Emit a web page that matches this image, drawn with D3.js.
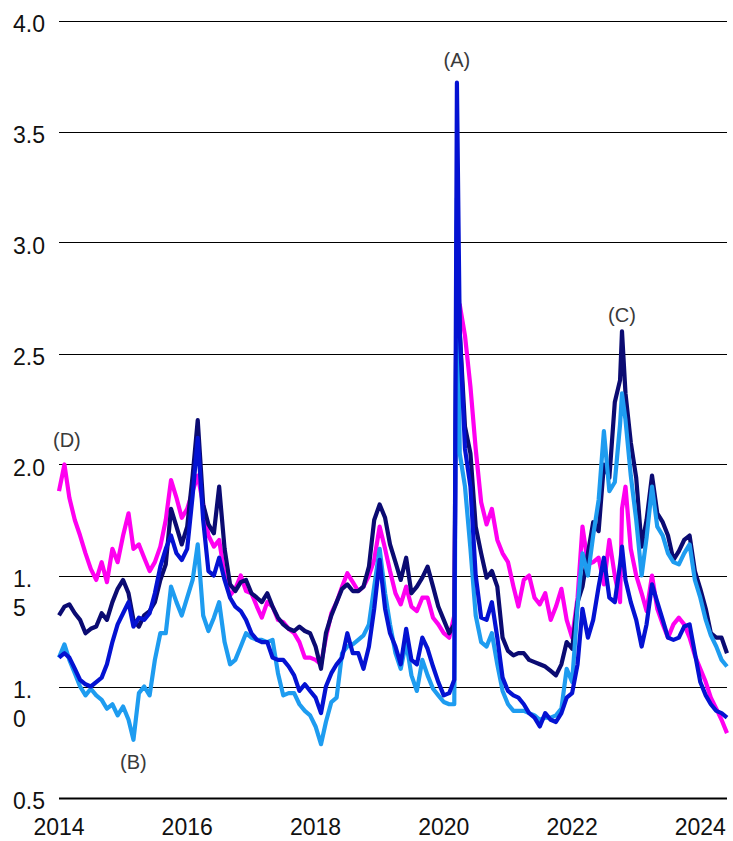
<!DOCTYPE html>
<html>
<head>
<meta charset="utf-8">
<script src="https://cdn.jsdelivr.net/npm/d3@7"></script>
<style>
  body { margin: 0; background: #fff; }
  svg { display: block; font-family: "Liberation Sans", Arial, sans-serif; }
</style>
</head>
<body>
<div id="chart"></div>
<script>
// monthly points Jan 2014 - Jun 2024, plus two extra days at the spikes
const extraDates = ["2020-03-16", "2022-10-12"];

const yTicks = [0.5, 1.0, 1.5, 2.0, 2.5, 3.0, 3.5, 4.0];
const yTickLabels = ["0.5", "1.\n0", "1.\n5", "2.0", "2.5", "3.0", "3.5", "4.0"];
const xTickYears = [2014, 2016, 2018, 2020, 2022, 2024];

const seriesNames = ["magenta", "navy", "lightblue", "blue"];
const seriesColors = ["#ff00f0", "#0b0b72", "#1e9cf0", "#0412d2"];

// values by year; 2020 and 2022 carry one extra (mid-month) point
const magenta = [
  1.88, 2.00, 1.85, 1.75, 1.68, 1.60, 1.53, 1.48, 1.56, 1.47, 1.62, 1.56,
  1.68, 1.78, 1.62, 1.64, 1.58, 1.52, 1.56, 1.63, 1.75, 1.93, 1.85, 1.76,
  1.80, 1.88, 1.95, 1.82, 1.68, 1.63, 1.66, 1.50, 1.41, 1.44, 1.50, 1.43,
  1.42, 1.36, 1.31, 1.38, 1.36, 1.30, 1.29, 1.26, 1.24, 1.20, 1.13, 1.13,
  1.12, 1.10, 1.22, 1.33, 1.38, 1.45, 1.51, 1.47, 1.43, 1.45, 1.50, 1.57,
  1.72, 1.62, 1.52, 1.42, 1.37, 1.45, 1.36, 1.34, 1.40, 1.40, 1.31, 1.28,
  1.24, 1.22, 1.32, 2.70, 2.72, 2.58, 2.35, 2.07, 1.83, 1.73, 1.80, 1.66, 1.60,
  1.56, 1.45, 1.36, 1.48, 1.50, 1.40, 1.37, 1.42, 1.30, 1.36, 1.44, 1.30,
  1.22, 1.40, 1.72, 1.55, 1.56, 1.58, 1.46, 1.66, 1.50, 1.38, 1.80, 1.90, 1.62,
  1.50, 1.42, 1.34, 1.50, 1.35, 1.28, 1.22, 1.28, 1.31, 1.28, 1.22, 1.14,
  1.08, 1.02, 0.95, 0.90, 0.85, 0.79
];

const navy = [
  1.32, 1.36, 1.37, 1.33, 1.30, 1.24, 1.26, 1.27, 1.33, 1.30, 1.38, 1.44,
  1.48, 1.42, 1.30, 1.27, 1.32, 1.34, 1.38, 1.48, 1.55, 1.80, 1.72, 1.64,
  1.72, 1.95, 2.20, 1.82, 1.73, 1.69, 1.90, 1.62, 1.46, 1.43, 1.47, 1.48,
  1.42, 1.40, 1.38, 1.42, 1.36, 1.31, 1.28, 1.26, 1.25, 1.27, 1.25, 1.24,
  1.18, 1.08, 1.24, 1.32, 1.38, 1.44, 1.46, 1.43, 1.43, 1.45, 1.54, 1.75,
  1.82, 1.76, 1.64, 1.56, 1.48, 1.58, 1.42, 1.45, 1.49, 1.54, 1.45, 1.36,
  1.30, 1.24, 1.28, 3.10, 2.60, 2.17, 2.05, 1.72, 1.60, 1.49, 1.52, 1.45, 1.22,
  1.16, 1.14, 1.15, 1.15, 1.12, 1.11, 1.10, 1.09, 1.07, 1.05, 1.10, 1.20,
  1.17, 1.38, 1.45, 1.60, 1.74, 1.70, 2.00, 1.94, 2.28, 2.38, 2.60, 2.32, 2.10,
  1.94, 1.63, 1.75, 1.95, 1.78, 1.74, 1.68, 1.57, 1.61, 1.66, 1.68, 1.52,
  1.44, 1.35, 1.24, 1.22, 1.22, 1.15
];

const lightblue = [
  1.13, 1.19, 1.12, 1.06, 1.00, 0.96, 0.99, 0.96, 0.94, 0.90, 0.92, 0.87,
  0.91, 0.85, 0.76, 0.97, 1.00, 0.96, 1.12, 1.24, 1.24, 1.45, 1.38, 1.32,
  1.40, 1.48, 1.64, 1.32, 1.25, 1.31, 1.38, 1.20, 1.10, 1.12, 1.18, 1.24,
  1.22, 1.21, 1.21, 1.20, 1.21, 1.06, 0.96, 0.97, 0.97, 0.92, 0.89, 0.87,
  0.82, 0.74, 0.84, 0.93, 0.95, 1.15, 1.18, 1.19, 1.21, 1.23, 1.28, 1.45,
  1.62, 1.42, 1.28, 1.15, 1.08, 1.20, 1.05, 0.98, 1.12, 1.05, 0.99, 0.96,
  0.93, 0.92, 0.92, 3.20, 2.05, 1.90, 1.62, 1.32, 1.20, 1.18, 1.24, 1.10, 0.98,
  0.92, 0.89, 0.89, 0.89, 0.88, 0.87, 0.85, 0.86, 0.86, 0.87, 0.90, 1.08,
  1.02, 1.36, 1.60, 1.50, 1.68, 1.84, 2.15, 1.88, 1.92, 2.18, 2.32, 2.20, 1.95,
  1.75, 1.50, 1.67, 1.90, 1.72, 1.68, 1.60, 1.56, 1.55, 1.60, 1.64, 1.48,
  1.40, 1.30, 1.23, 1.18, 1.12, 1.09
];

const blue = [
  1.13, 1.15, 1.13, 1.08, 1.03, 1.01, 1.00, 1.02, 1.04, 1.10, 1.20, 1.28,
  1.33, 1.38, 1.27, 1.31, 1.30, 1.33, 1.42, 1.54, 1.62, 1.68, 1.60, 1.57,
  1.62, 1.86, 2.12, 1.75, 1.52, 1.50, 1.58, 1.48, 1.40, 1.36, 1.34, 1.30,
  1.24, 1.21, 1.20, 1.20, 1.13, 1.12, 1.12, 1.09, 1.05, 0.98, 1.01, 0.98,
  0.95, 0.88, 1.00, 1.06, 1.10, 1.13, 1.24, 1.15, 1.15, 1.08, 1.18, 1.35,
  1.57, 1.35, 1.24, 1.18, 1.10, 1.26, 1.12, 1.10, 1.22, 1.17, 1.09, 1.02,
  0.96, 0.97, 1.03, 3.72, 2.60, 2.07, 1.90, 1.50, 1.31, 1.30, 1.38, 1.22, 1.04,
  0.98, 0.96, 0.95, 0.92, 0.88, 0.86, 0.82, 0.88, 0.85, 0.84, 0.88, 0.95,
  0.97, 1.10, 1.35, 1.22, 1.30, 1.45, 1.58, 1.40, 1.38, 1.55, 1.63, 1.48, 1.38,
  1.30, 1.18, 1.28, 1.46, 1.38, 1.30, 1.22, 1.21, 1.22, 1.27, 1.28, 1.15,
  1.02, 0.96, 0.92, 0.89, 0.88, 0.86
];

const annoLabels = ["(A)", "(B)", "(C)", "(D)"];
const annoDates = ["2020-03-16", "2015-03-01", "2022-10-12", "2014-02-15"];
const annoValues = [3.79, 0.63, 2.64, 2.08];


class ratioChart {

    constructor(opts) {
        this.element = opts.element;
        this.width = 733;
        this.height = 841;
        this.update();
    }

    update() {
        this._setData();
        this._setScales();
        this.draw();
    }

    _setData() {
        const parse = d3.timeParse("%Y-%m-%d");
        let months = d3.timeMonth.range(new Date(2014, 0, 1), new Date(2024, 6, 1));
        this.dates = months.concat(extraDates.map(parse)).sort((a, b) => a - b);

        const values = [magenta, navy, lightblue, blue];
        this.series = seriesNames.map((name, i) => ({
            name: name,
            color: seriesColors[i],
            points: this.dates.map((d, j) => ({ date: d, v: values[i][j] }))
        }));
        this.annos = annoLabels.map((l, i) => ({ label: l, date: parse(annoDates[i]), v: annoValues[i] }));
    }

    _setScales() {
        this.left = 59;
        this.right = 727;

        this.xScale = d3.scaleTime()
            .domain([new Date(2014, 0, 1), new Date(2024, 5, 1)])
            .range([this.left, this.right]);

        this.yScale = d3.scaleLinear()
            .domain([0.5, 4.0])
            .range([797.5, 20.5]);
    }

    draw() {
        this.element.innerHTML = "";

        this.svg = d3.select(this.element).append("svg")
            .attr("width", this.width)
            .attr("height", this.height);

        // horizontal grid
        this.svg.append("g").selectAll("line")
            .data(yTicks)
            .enter().append("line")
            .attr("x1", this.left)
            .attr("x2", this.right)
            .attr("y1", d => Math.round(this.yScale(d)) + 0.5)
            .attr("y2", d => Math.round(this.yScale(d)) + 0.5)
            .attr("stroke", "#000")
            .attr("stroke-width", d => d === 0.5 ? 2 : 1);

        // y labels, some of them wrap onto two lines
        let yLab = this.svg.append("g")
            .attr("font-size", 23)
            .attr("fill", "#111")
            .selectAll("text")
            .data(yTicks)
            .enter().append("text")
            .attr("x", 13)
            .attr("y", d => this.yScale(d) + 11);

        yLab.each(function(d, i) {
            let lines = yTickLabels[i].split("\n");
            let t = d3.select(this);
            lines.forEach((s, k) => {
                t.append("tspan")
                    .attr("x", 13)
                    .attr("dy", k === 0 ? 0 : 29.5)
                    .text(s);
            });
        });

        // x labels
        this.svg.append("g")
            .attr("font-size", 23)
            .attr("fill", "#111")
            .attr("text-anchor", "middle")
            .selectAll("text")
            .data(xTickYears)
            .enter().append("text")
            .attr("x", d => this.xScale(new Date(d, 0, 1)))
            .attr("y", 835)
            .text(d => d);

        // lines
        let line = d3.line()
            .x(d => this.xScale(d.date))
            .y(d => this.yScale(d.v));

        this.svg.append("g").selectAll("path")
            .data(this.series)
            .enter().append("path")
            .attr("d", d => line(d.points))
            .attr("fill", "none")
            .attr("stroke", d => d.color)
            .attr("stroke-width", 4.2)
            .attr("stroke-linejoin", "round");

        // annotations
        this.svg.append("g")
            .attr("font-size", 20)
            .attr("fill", "#3a3a3a")
            .attr("text-anchor", "middle")
            .selectAll("text")
            .data(this.annos)
            .enter().append("text")
            .attr("x", d => this.xScale(d.date))
            .attr("y", d => this.yScale(d.v))
            .text(d => d.label);
    }
}

new ratioChart({ element: document.getElementById("chart") });
</script>
</body>
</html>
